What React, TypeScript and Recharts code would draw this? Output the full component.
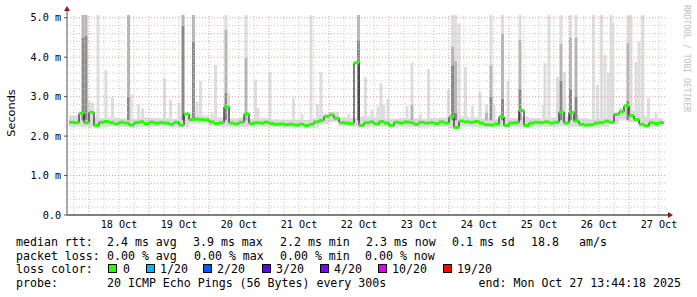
import React from "react";
import {
  ComposedChart,
  XAxis,
  YAxis,
  Bar,
  Line,
  Area,
  ReferenceLine,
  ReferenceDot,
} from "recharts";

const WIDTH = 697;
const HEIGHT = 297;
const MONO = '"DejaVu Sans Mono", monospace';

// x axis is hours since 17 Oct 00:00
const X_MIN = 15.2;
const X_MAX = 255.2;
const Y_MAX = 5.07;

const DAY_TICKS = [36, 60, 84, 108, 132, 156, 180, 204, 228, 252];
const DAY_LABELS = ["18 Oct", "19 Oct", "20 Oct", "21 Oct", "22 Oct", "23 Oct", "24 Oct", "25 Oct", "26 Oct", "27 Oct"];
const Y_TICKS = [0, 1, 2, 3, 4, 5];

const X_MAJOR_GRID = [24, 48, 72, 96, 120, 144, 168, 192, 216, 240];
const X_MINOR_GRID = [18, 30, 36, 42, 54, 60, 66, 78, 84, 90, 102, 108, 114, 126, 132, 138, 150, 156, 162, 174, 180, 186, 198, 204, 210, 222, 228, 234, 246, 252];
const Y_MAJOR_GRID = [1, 2, 3, 4, 5];
const Y_MINOR_GRID = [0.2, 0.4, 0.6, 0.8, 1.2, 1.4, 1.6, 1.8, 2.2, 2.4, 2.6, 2.8, 3.2, 3.4, 3.6, 3.8, 4.2, 4.4, 4.6, 4.8];

// median rtt (ms), one sample every 2 hours from hour 16
const MEDIAN_START = 16;
const MEDIAN_STEP = 2;
const MEDIAN = [
  2.35, 2.34, 2.58, 2.34, 2.6, 2.27, 2.35, 2.37, 2.34, 2.31, 2.35, 2.33, 2.28, 2.34, 2.36, 2.32,
  2.35, 2.33, 2.34, 2.33, 2.3, 2.35, 2.28, 2.56, 2.42, 2.43, 2.42, 2.41, 2.36, 2.32, 2.34, 2.74,
  2.33, 2.31, 2.35, 2.56, 2.32, 2.34, 2.33, 2.35, 2.32, 2.3, 2.31, 2.29, 2.3, 2.28, 2.3, 2.27,
  2.3, 2.36, 2.4, 2.5, 2.54, 2.45, 2.34, 2.33, 2.32, 3.86, 2.27, 2.34, 2.36, 2.31, 2.37, 2.33,
  2.27, 2.35, 2.33, 2.36, 2.34, 2.3, 2.35, 2.33, 2.34, 2.32, 2.36, 2.33, 2.48, 2.22, 2.38, 2.36,
  2.35, 2.37, 2.33, 2.29, 2.28, 2.31, 2.49, 2.27, 2.33, 2.34, 2.65, 2.27, 2.33, 2.35, 2.34, 2.36,
  2.33, 2.35, 2.61, 2.33, 2.6, 2.38, 2.3, 2.28, 2.29, 2.33, 2.34, 2.38, 2.35, 2.55, 2.62, 2.77,
  2.52, 2.42, 2.3, 2.26, 2.34, 2.32, 2.34,
];
const LAST_HOUR = 253.7;
const LAST_MEDIAN = 2.34;

// smoke band around the median, one sample every 4 hours from hour 16
const BAND_START = 16;
const BAND_STEP = 4;
const BAND_HI = [
  2.52, 2.55, 2.5, 2.46, 2.47, 2.45, 2.44, 2.48, 2.46, 2.45, 2.44, 2.5, 2.55, 2.52, 2.47, 2.48,
  2.45, 2.47, 2.44, 2.46, 2.43, 2.42, 2.42, 2.41, 2.45, 2.55, 2.62, 2.48, 2.46, 2.5, 2.47, 2.45,
  2.44, 2.46, 2.45, 2.44, 2.46, 2.47, 2.55, 2.5, 2.47, 2.45, 2.43, 2.5, 2.46, 2.5, 2.46, 2.45,
  2.47, 2.5, 2.52, 2.45, 2.43, 2.46, 2.5, 2.72, 2.65, 2.5, 2.46, 2.45,
];
const BAND_LO = [
  2.24, 2.24, 2.22, 2.24, 2.25, 2.23, 2.22, 2.24, 2.24, 2.25, 2.22, 2.23, 2.32, 2.32, 2.25, 2.24,
  2.24, 2.23, 2.24, 2.24, 2.23, 2.22, 2.22, 2.21, 2.22, 2.3, 2.36, 2.25, 2.24, 2.22, 2.24, 2.24,
  2.22, 2.24, 2.23, 2.22, 2.24, 2.24, 2.2, 2.25, 2.24, 2.22, 2.22, 2.23, 2.24, 2.22, 2.24, 2.24,
  2.23, 2.25, 2.24, 2.23, 2.22, 2.24, 2.3, 2.42, 2.35, 2.22, 2.23, 2.24,
];

// smoke spikes: [hour, light top, mid top, dark top] (ms)
const SPIKES: [number, number, number, number][] = [
  [21.6, 5.07, 5.07, 4.5], [22.8, 5.07, 5.07, 4.55], [24.2, 2.88, 0, 0], [25.4, 2.85, 0, 0],
  [27.6, 5.07, 0, 0], [30.8, 3.68, 0, 0], [33.4, 2.98, 0, 0], [39.8, 5.07, 5.07, 3.0],
  [40.8, 3.05, 0, 0], [43.8, 2.8, 0, 0], [45.4, 2.71, 0, 0], [54.2, 3.47, 0, 0],
  [56.6, 2.92, 0, 0], [60, 2.84, 0, 0], [61.6, 5.07, 5.07, 4.8], [65.8, 5.07, 5.07, 4.4],
  [67.2, 2.88, 0, 0], [68.6, 3.4, 0, 0], [73.2, 2.6, 0, 0], [74.6, 3.8, 0, 0],
  [78.8, 5.07, 4.7, 3.1], [79.8, 3.1, 0, 0], [86.8, 5.07, 3.98, 0], [90.6, 3.42, 0, 0],
  [91.6, 2.71, 0, 0], [96.4, 3.62, 0, 0], [105.8, 2.98, 0, 0], [109.2, 2.55, 0, 0],
  [112.8, 5.07, 0, 0], [115.4, 2.8, 0, 0], [116.8, 3.62, 0, 0], [128, 2.55, 0, 0],
  [131.8, 5.07, 5.07, 4.45], [134.6, 3.5, 0, 0], [137.2, 2.66, 0, 0], [139.6, 2.76, 0, 0],
  [140.8, 3.34, 0, 0], [141.8, 2.79, 0, 0], [143.6, 2.95, 0, 0], [151.2, 2.76, 0, 0],
  [153.2, 3.87, 2.79, 0], [156.6, 2.55, 0, 0], [159.8, 3.7, 0, 0], [167.8, 3.18, 0, 0],
  [169.4, 5.07, 4.27, 3.8], [170.6, 5.07, 3.9, 2.6], [172, 4.86, 0, 0], [174.6, 3.75, 0, 0],
  [177.4, 2.76, 0, 0], [180.4, 3.13, 0, 0], [183, 2.79, 2.6, 0], [184.8, 5.07, 3.8, 3.0],
  [186, 2.79, 0, 0], [189.4, 5.07, 4.6, 2.95], [191.6, 3.4, 0, 0], [196.4, 5.07, 4.44, 3.2],
  [205.8, 2.79, 0, 0], [206.4, 3.85, 0, 0], [208, 5.07, 0, 0], [211.4, 3.5, 0, 0],
  [212.8, 5.07, 4.34, 3.4], [214.2, 3.63, 0, 0], [216.6, 5.07, 4.5, 3.2], [218.8, 5.07, 4.5, 3.0],
  [225.8, 5.07, 0, 0], [227.4, 3.3, 0, 0], [229, 5.07, 0, 0], [230.4, 4.06, 0, 0],
  [231.8, 3.6, 0, 0], [232.8, 5.07, 0, 0], [233.4, 4.87, 0, 0], [239.6, 5.07, 4.36, 2.9],
  [240.8, 5.07, 0, 0], [242.8, 3.88, 0, 0], [244, 4.4, 0, 0], [245.4, 5.07, 0, 0],
  [247.8, 2.97, 0, 0], [250.8, 2.6, 0, 0],
];
const SPIKE_FLOOR = 2.4;

const LOSS_COLORS = [
  { label: "0", color: "#26ff00", box: 108, text: 123 },
  { label: "1/20", color: "#00b8ff", box: 146, text: 160 },
  { label: "2/20", color: "#0059ff", box: 203, text: 217 },
  { label: "3/20", color: "#5e00ff", box: 262, text: 276 },
  { label: "4/20", color: "#7e00ff", box: 320, text: 334 },
  { label: "10/20", color: "#dd00ff", box: 378, text: 392 },
  { label: "19/20", color: "#ff0000", box: 443, text: 457 },
];

const medianData = MEDIAN.map((v, i) => ({ h: MEDIAN_START + i * MEDIAN_STEP, v })).concat([
  { h: LAST_HOUR, v: LAST_MEDIAN },
]);

const bandData = BAND_HI.map((hi, i) => ({ h: BAND_START + i * BAND_STEP, range: [BAND_LO[i], hi] })).concat([
  { h: LAST_HOUR, range: [BAND_LO[BAND_LO.length - 1], BAND_HI[BAND_HI.length - 1]] },
]);

const spikeRows = SPIKES.map(([h, light, mid, dark]) => {
  const darkTop = Math.max(dark, SPIKE_FLOOR);
  const midTop = Math.max(mid, darkTop);
  const lightTop = Math.max(light, midTop);
  return {
    h,
    floor: SPIKE_FLOOR,
    dark: darkTop - SPIKE_FLOOR,
    mid: midTop - darkTop,
    light: lightTop - midTop,
  };
});

// smoke columns are a few pixels wide whatever the band size is
const smokeShape = (fill: string) => (props: any) => {
  const { x, y, width, height } = props;
  if (!height || height <= 0) return <g />;
  const cx = x + (width || 0) / 2;
  return <rect x={cx - 1.5} y={y} width={3} height={height} fill={fill} />;
};

const GreenStep = (props: any) => {
  const { cx, cy, index } = props;
  if (cx == null || cy == null || index === medianData.length - 1) return <g key={`g${index}`} />;
  return <rect key={`g${index}`} x={cx} y={cy - 1.5} width={5} height={3} fill="#26ff00" />;
};

const UpArrow = (props: any) => {
  const { cx, cy } = props;
  return (
    <g>
      <line x1={cx} y1={cy} x2={cx} y2={cy - 6} stroke="#555" />
      <path d={`M${cx - 3},${cy - 4} L${cx + 3},${cy - 4} L${cx},${cy - 9} Z`} fill="#8b1a1a" />
    </g>
  );
};

const RightArrow = (props: any) => {
  const { cx, cy } = props;
  return (
    <g>
      <line x1={cx} y1={cy} x2={cx + 2} y2={cy} stroke="#000" />
      <path d={`M${cx + 1},${cy - 3} L${cx + 1},${cy + 3} L${cx + 6},${cy} Z`} fill="#8b1a1a" />
    </g>
  );
};

const dayLabel = (v: number) => DAY_LABELS[DAY_TICKS.indexOf(v)] ?? "";
const msLabel = (v: number) => (v === 0 ? "0.0" : `${v.toFixed(1)} m`);

const textStyle: React.CSSProperties = { whiteSpace: "pre" };

export default function App() {
  return (
    <div style={{ position: "absolute", left: 0, top: 0, width: WIDTH, height: HEIGHT, background: "#fff" }}>
      <ComposedChart
        width={WIDTH}
        height={HEIGHT}
        data={spikeRows}
        margin={{ top: 15, right: 30, bottom: 0, left: 0 }}
      >
        <XAxis
          dataKey="h"
          type="number"
          domain={[X_MIN, X_MAX]}
          allowDataOverflow
          ticks={DAY_TICKS}
          tickFormatter={dayLabel}
          interval={0}
          height={82}
          tickLine={false}
          tickSize={6}
          tickMargin={0}
          axisLine={{ stroke: "#000" }}
          tick={{ fontSize: 10.15, fontFamily: MONO, fill: "#000" }}
        />
        <YAxis
          type="number"
          domain={[0, Y_MAX]}
          allowDataOverflow
          ticks={Y_TICKS}
          tickFormatter={msLabel}
          interval={0}
          width={67}
          tickSize={3}
          tickMargin={3}
          axisLine={{ stroke: "#555" }}
          tickLine={{ stroke: "#555" }}
          tick={{ fontSize: 10.15, fontFamily: MONO, fill: "#000" }}
        />
        <Area
          data={bandData}
          dataKey="range"
          type="stepAfter"
          fill="#dcdcdc"
          fillOpacity={1}
          stroke="none"
          isAnimationActive={false}
        />
        <Bar dataKey="floor" stackId="smoke" fill="transparent" isAnimationActive={false} shape={smokeShape("transparent")} />
        <Bar dataKey="dark" stackId="smoke" fill="#8a8a8a" isAnimationActive={false} shape={smokeShape("#8a8a8a")} />
        <Bar dataKey="mid" stackId="smoke" fill="#b6b6b6" isAnimationActive={false} shape={smokeShape("#b6b6b6")} />
        <Bar dataKey="light" stackId="smoke" fill="#dedede" isAnimationActive={false} shape={smokeShape("#dedede")} />
        {Y_MINOR_GRID.map((v) => (
          <ReferenceLine key={`ym${v}`} y={v} stroke="#c4c4c4" strokeDasharray="1 2" />
        ))}
        {X_MINOR_GRID.map((v) => (
          <ReferenceLine key={`xm${v}`} x={v} stroke="#c4c4c4" strokeDasharray="1 2" />
        ))}
        {Y_MAJOR_GRID.map((v) => (
          <ReferenceLine key={`yM${v}`} y={v} stroke="#e39a9a" strokeDasharray="1 2" />
        ))}
        {X_MAJOR_GRID.map((v) => (
          <ReferenceLine key={`xM${v}`} x={v} stroke="#e39a9a" strokeDasharray="1 2" />
        ))}
        <Line
          data={medianData}
          dataKey="v"
          type="stepAfter"
          stroke="#000"
          strokeWidth={1}
          dot={false}
          activeDot={false}
          isAnimationActive={false}
        />
        <Line
          data={medianData}
          dataKey="v"
          type="stepAfter"
          stroke="none"
          dot={GreenStep}
          activeDot={false}
          isAnimationActive={false}
        />
        <ReferenceDot x={X_MIN} y={Y_MAX} r={0} ifOverflow="visible" shape={UpArrow} />
        <ReferenceDot x={X_MAX} y={0} r={0} ifOverflow="visible" shape={RightArrow} />
      </ComposedChart>
      <svg
        width={WIDTH}
        height={HEIGHT}
        style={{ position: "absolute", left: 0, top: 0, pointerEvents: "none" }}
      >
        <text
          x={0}
          y={0}
          transform="translate(15,113) rotate(-90)"
          textAnchor="middle"
          fontFamily='"DejaVu Sans", sans-serif'
          fontSize={11.3}
          fill="#000"
        >
          Seconds
        </text>
        <text
          x={0}
          y={0}
          transform="translate(684,5) rotate(90)"
          fontFamily={MONO}
          fontSize={8.1}
          fill="#c0c0c0"
        >
          RRDTOOL / TOBI OETIKER
        </text>
        <g fontFamily={MONO} fontSize={11.6} fill="#000" style={textStyle}>
          <text x={16} y={246}>median rtt:</text>
          <text x={107} y={246}>2.4 ms avg</text>
          <text x={193} y={246}>3.9 ms max</text>
          <text x={280} y={246}>2.2 ms min</text>
          <text x={366} y={246}>2.3 ms now</text>
          <text x={452} y={246}>0.1 ms sd</text>
          <text x={531} y={246}>18.8</text>
          <text x={579} y={246}>am/s</text>

          <text x={16} y={259.5}>packet loss:</text>
          <text x={107} y={259.5}>0.00 % avg</text>
          <text x={194} y={259.5}>0.00 % max</text>
          <text x={280} y={259.5}>0.00 % min</text>
          <text x={365} y={259.5}>0.00 % now</text>

          <text x={16} y={273}>loss color:</text>
          {LOSS_COLORS.map((c) => (
            <g key={c.label}>
              <rect x={c.box + 0.5} y={264.5} width={8} height={8} fill={c.color} stroke="#000" />
              <text x={c.text} y={273}>{c.label}</text>
            </g>
          ))}

          <text x={16} y={287}>probe:</text>
          <text x={107} y={287}>20 ICMP Echo Pings (56 Bytes) every 300s</text>
          <text x={681} y={287} textAnchor="end">end: Mon Oct 27 13:44:18 2025</text>
        </g>
      </svg>
    </div>
  );
}
